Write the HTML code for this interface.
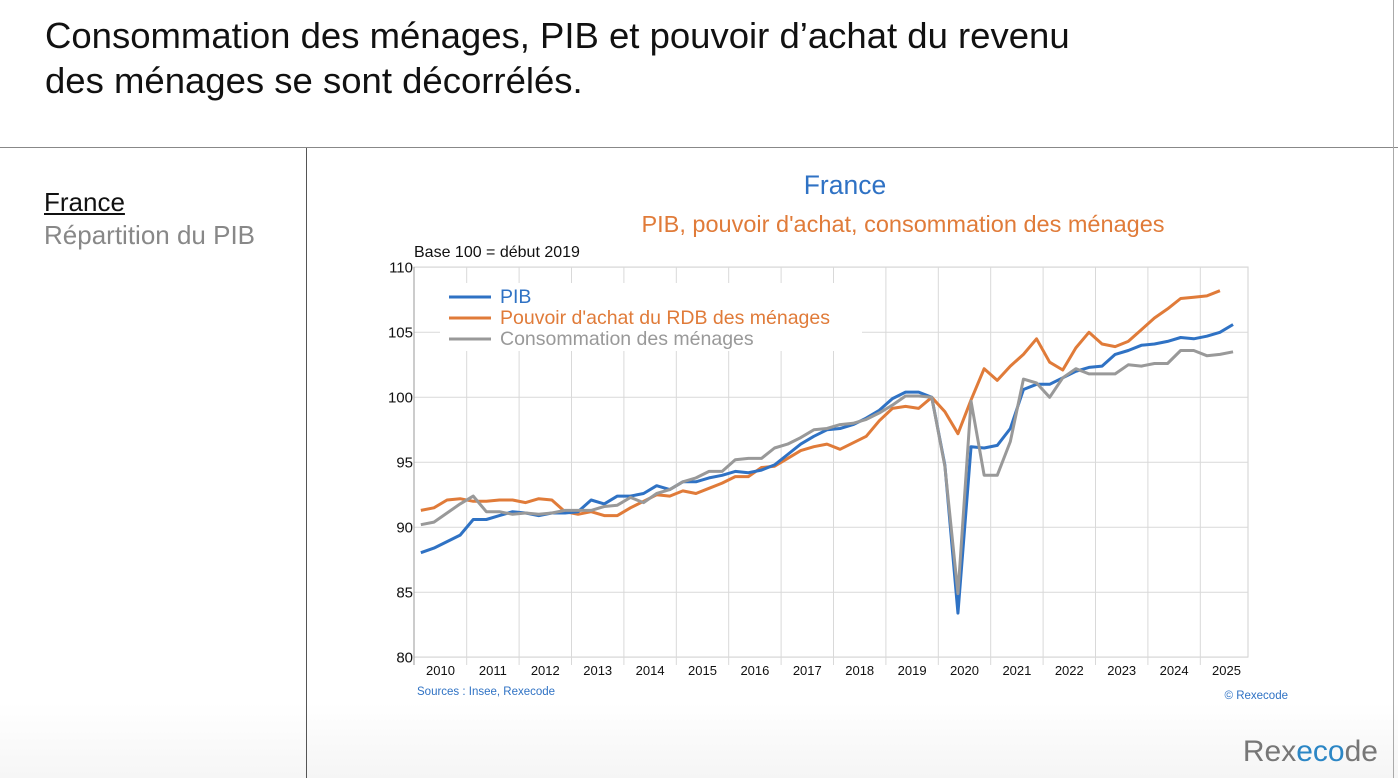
<!DOCTYPE html>
<html><head><meta charset="utf-8"><style>
html,body{margin:0;padding:0;width:1398px;height:778px;overflow:hidden;background:#fff;font-family:"Liberation Sans",sans-serif;}
#hdr{position:absolute;left:0;top:0;width:1398px;height:147px;border-bottom:1px solid #888;}
#title{position:absolute;left:45px;top:13px;font-size:36.5px;line-height:45px;color:#111;}
#side{position:absolute;left:0;top:148px;width:306px;height:630px;border-right:1px solid #555;background:linear-gradient(#fff 88%,#f6f6f6);}
#main{position:absolute;left:307px;top:148px;width:1091px;height:630px;background:linear-gradient(#fff 88%,#f5f5f5);}
.edge{position:absolute;left:1393px;top:0;width:1px;height:778px;background:#aaa;}
</style></head><body>
<div id="hdr"><div id="title">Consommation des ménages, PIB et pouvoir d’achat du revenu<br>des ménages se sont décorrélés.</div></div>
<div id="side">
<div style="position:absolute;left:44px;top:39px;font-size:26px;color:#111;text-decoration:underline;">France</div>
<div style="position:absolute;left:44px;top:72px;font-size:26px;color:#888;">Répartition du PIB</div>
</div>
<div id="main"></div>
<div class="edge"></div>
<svg id="chart" width="1398" height="778" style="position:absolute;left:0;top:0"></svg>
<script>
const years=['2010','2011','2012','2013','2014','2015','2016','2017','2018','2019','2020','2021','2022','2023','2024','2025'];
const yTicks=[80,85,90,95,100,105,110];
const pib=[88.05,88.4,88.9,89.4,90.6,90.6,90.9,91.2,91.1,90.9,91.1,91.1,91.2,92.1,91.8,92.4,92.4,92.6,93.2,92.9,93.5,93.5,93.8,94.0,94.3,94.2,94.4,94.8,95.6,96.4,97.0,97.5,97.6,97.9,98.4,99.0,99.9,100.4,100.4,100.0,94.8,83.4,96.2,96.1,96.3,97.6,100.6,101.0,101.0,101.5,102.0,102.3,102.4,103.3,103.6,104.0,104.1,104.3,104.6,104.5,104.7,105.0,105.6];
const pouvoir=[91.3,91.5,92.1,92.2,92.0,92.0,92.1,92.1,91.9,92.2,92.1,91.2,91.0,91.2,90.9,90.9,91.5,92.0,92.5,92.4,92.8,92.6,93.0,93.4,93.9,93.9,94.6,94.7,95.3,95.9,96.2,96.4,96.0,96.5,97.0,98.2,99.15,99.3,99.15,100.0,98.9,97.2,99.8,102.2,101.3,102.4,103.3,104.5,102.7,102.1,103.8,105.0,104.1,103.9,104.3,105.2,106.1,106.8,107.6,107.7,107.8,108.2];
const conso=[90.2,90.4,91.1,91.8,92.4,91.2,91.2,91.0,91.1,91.0,91.1,91.3,91.3,91.3,91.6,91.7,92.3,91.9,92.6,92.9,93.5,93.8,94.3,94.3,95.2,95.3,95.3,96.1,96.4,96.9,97.5,97.6,97.9,98.0,98.3,98.8,99.4,100.1,100.1,100.0,94.7,84.9,99.7,94.0,94.0,96.6,101.4,101.1,100.0,101.5,102.2,101.8,101.8,101.8,102.5,102.4,102.6,102.6,103.6,103.6,103.2,103.3,103.5];
const NS='http://www.w3.org/2000/svg';
const svg=document.getElementById('chart');
const X0=414.3,QW=13.1,PL=414,PR=1248,PT=267,PB=657;
const xq=i=>X0+QW*(i+0.5);
const y=v=>397.3-(v-100)*13;
function mk(tag,attrs,parent){const e=document.createElementNS(NS,tag);for(const k in attrs)e.setAttribute(k,attrs[k]);(parent||svg).appendChild(e);return e;}
const bg=mk('rect',{x:PL,y:PT,width:PR-PL,height:PB-PT,fill:'#fff',stroke:'#d0d0d0'});


yTicks.forEach(t=>{
  const l=mk('line',{x1:PL,x2:PR,y1:y(t),y2:y(t),stroke:'#d9d9d9','stroke-width':1});
  
  
  const tx=mk('text',{x:PL-1,y:y(t)+5,'text-anchor':'end','font-size':15,fill:'#111'});
  tx.textContent=t;
  
  
});
years.forEach((yr,k)=>{
  const xb=X0+k*4*QW;
  if(k>0){const l=mk('line',{x1:xb,x2:xb,y1:PT,y2:PB+8,stroke:'#d9d9d9'});
  
  }
  const tx=mk('text',{x:xb+2*QW,y:675,'text-anchor':'middle','font-size':13,fill:'#111'});
  tx.textContent=yr;
  
  
});
const ax=mk('line',{x1:PL,x2:PL,y1:PT,y2:PB+8,stroke:'#999'});


const lg=mk('rect',{x:440,y:283,width:422,height:68,fill:'#fff'});


function line(arr,col,name){
  const p=mk('polyline',{points:arr.map((v,i)=>xq(i)+','+y(v)).join(' '),fill:'none',stroke:col,'stroke-width':3,'stroke-linejoin':'round'});
  
  
}
line(pouvoir,'#e07b39','pouvoir-achat-line');
line(pib,'#2f72c4','pib-line');
line(conso,'#999999','consommation-line');
const leg=[['PIB','#2f72c4',297],["Pouvoir d'achat du RDB des ménages",'#e07b39',318],['Consommation des ménages','#999999',339]];
leg.forEach(([t,c,yy])=>{
  const l=mk('line',{x1:449,x2:491,y1:yy,y2:yy,stroke:c,'stroke-width':3});
  
  
  const tx=mk('text',{x:500,y:yy+6,'font-size':19.5,fill:c});
  tx.textContent=t;
  
  
});
function txt(s,x,yy,size,col,anchor,name){const t=mk('text',{x:x,y:yy,'font-size':size,fill:col,'text-anchor':anchor||'start'});t.textContent=s;

}
txt('France',845,194,26.5,'#2f72c4','middle','chart-title');
txt("PIB, pouvoir d'achat, consommation des ménages",903,232,23.5,'#e07b39','middle','chart-subtitle');
txt('Base 100 = début 2019',414,257,16,'#111','start','y-axis-title');
txt('Sources : Insee, Rexecode',417,695,11.5,'#2f72c4','start','source-note');
txt('© Rexecode',1288,699,11.5,'#2f72c4','end','copyright');
const logo=mk('text',{x:1378,y:761,'font-size':30,'text-anchor':'end',fill:'#777'});


logo.innerHTML='Rex<tspan fill="#2b86c5">eco</tspan>de';
</script>
</body></html>
